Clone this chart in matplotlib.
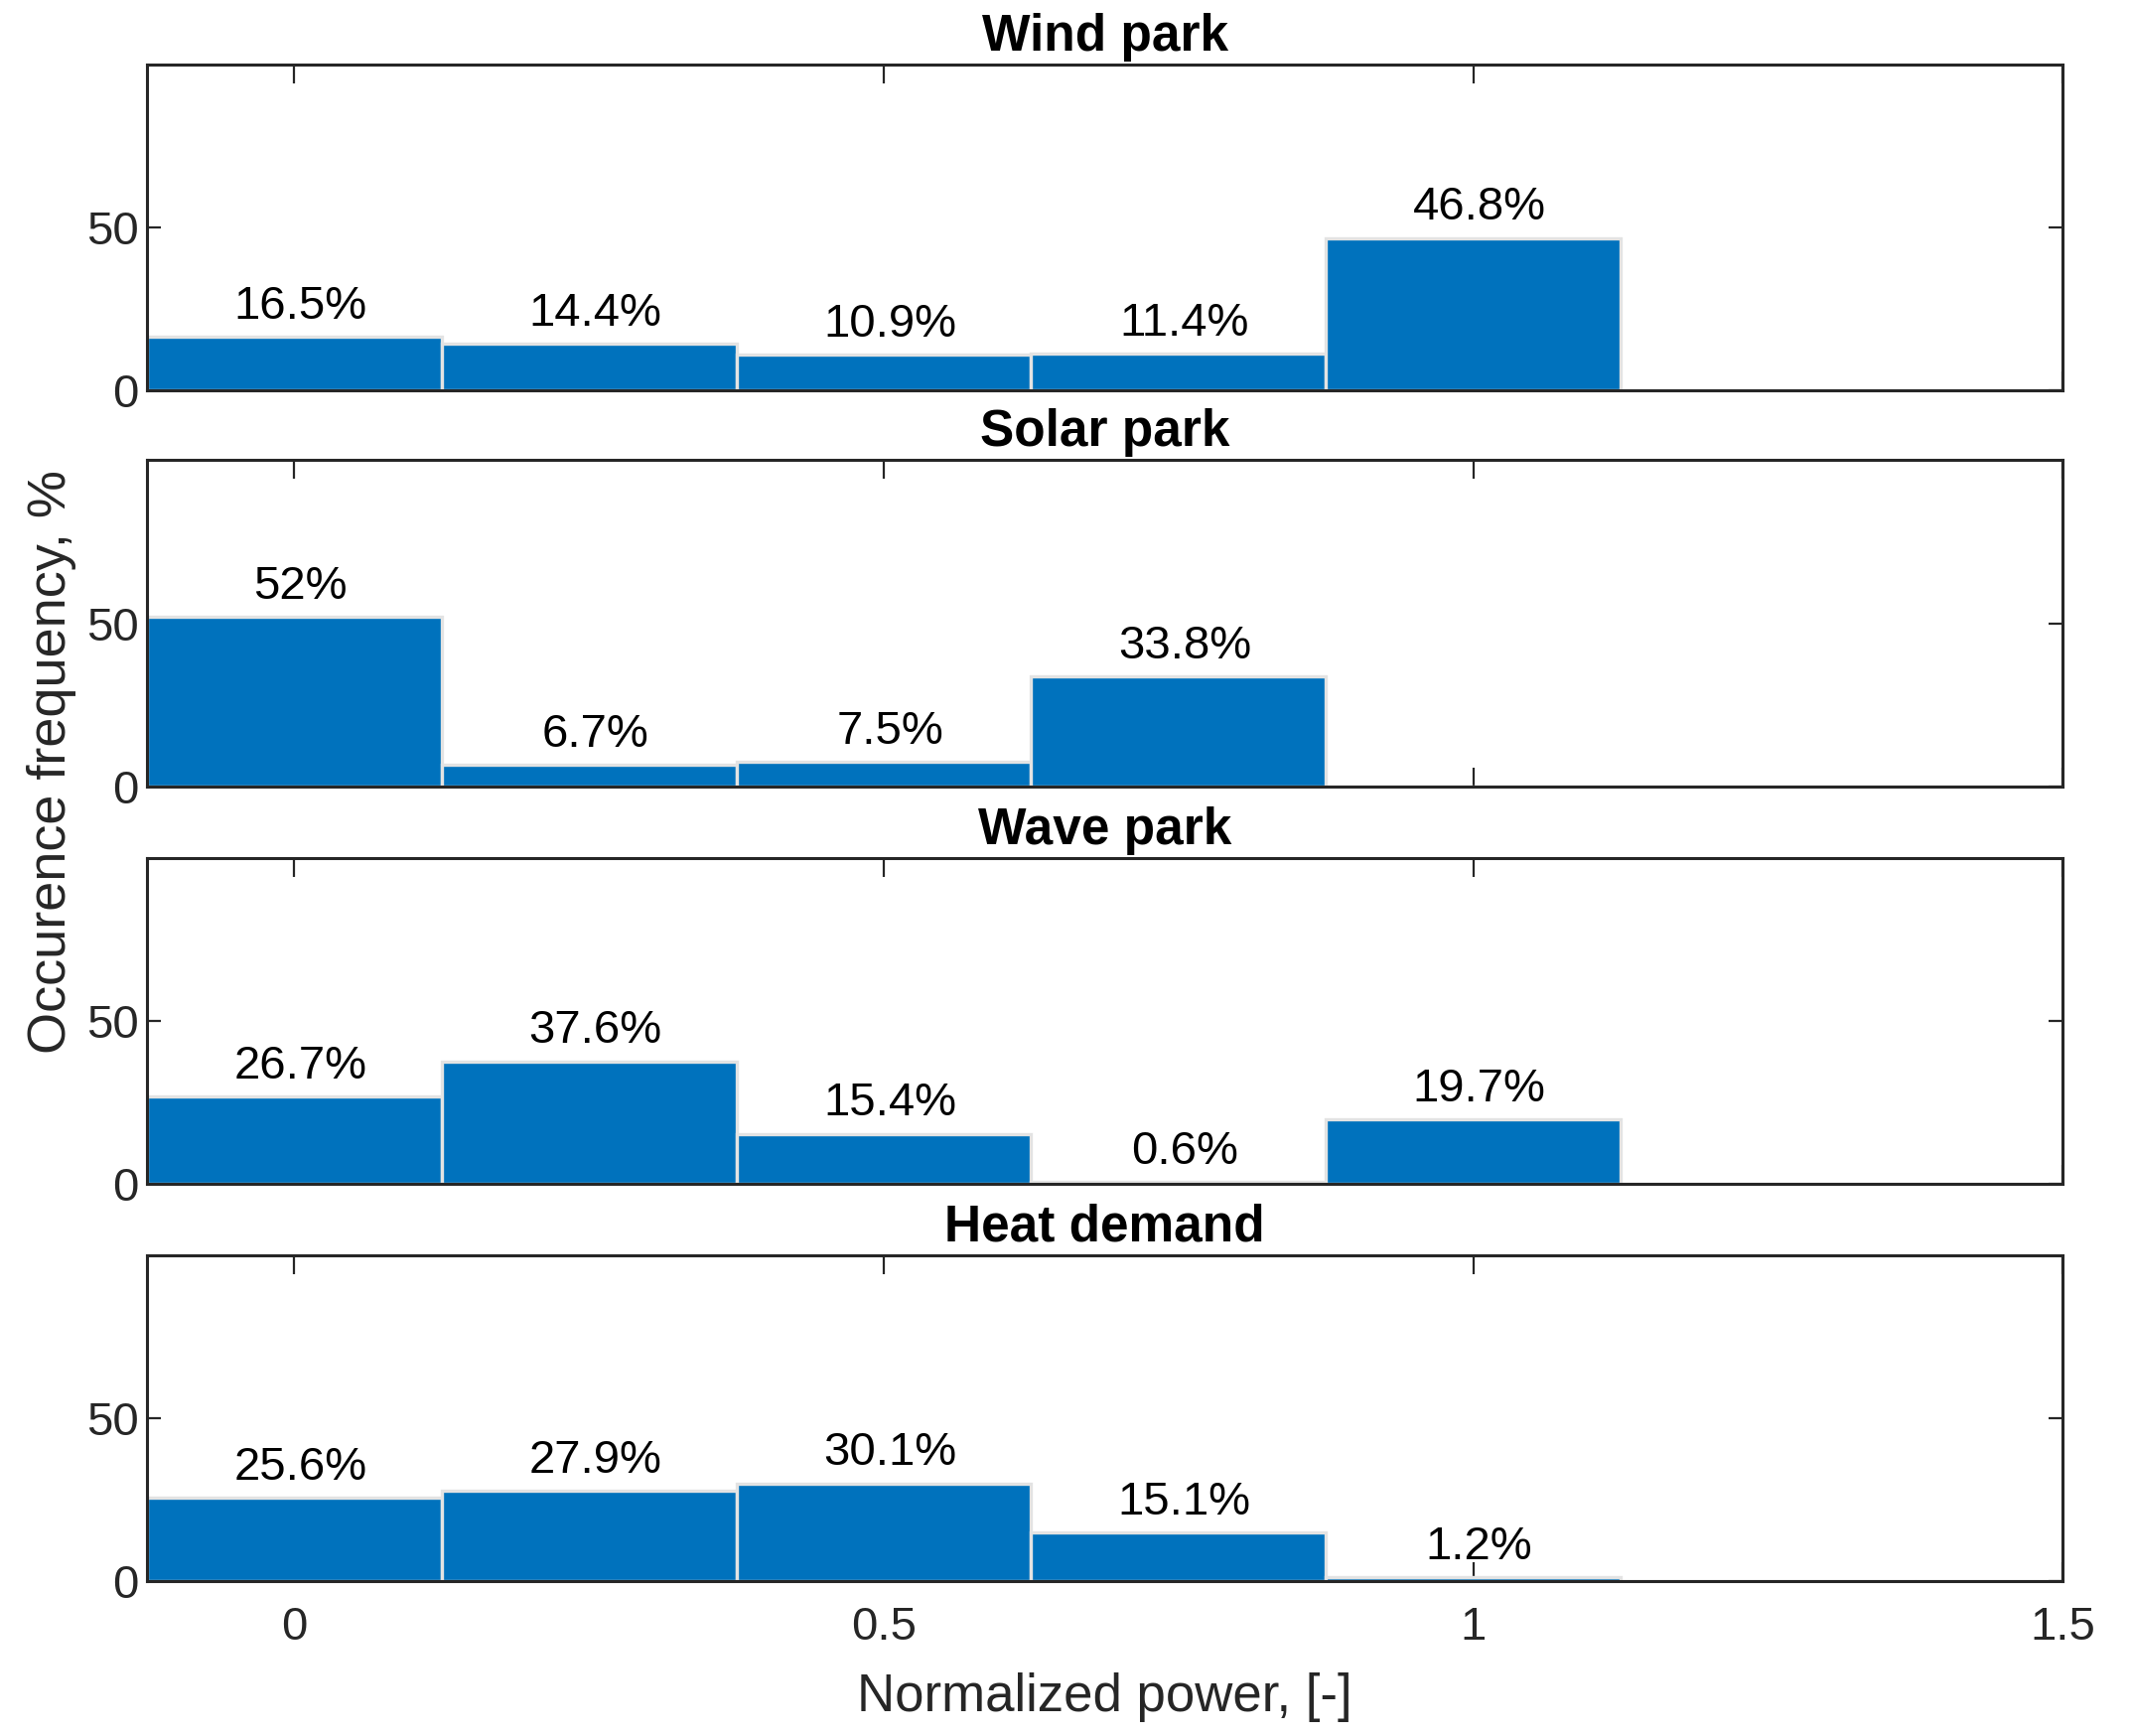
import matplotlib.pyplot as plt
import numpy as np

plt.rcParams['font.family'] = ['Liberation Sans', 'DejaVu Sans']

# bin centres of normalized power and occurrence frequency (%) per source
centers = [0, 0.25, 0.5, 0.75, 1.0, 1.25, 1.5]
titles = ['Wind park', 'Solar park', 'Wave park', 'Heat demand']
wind = [16.5, 14.4, 10.9, 11.4, 46.8, 0, 0]
solar = [52.0, 6.7, 7.5, 33.8, 0, 0, 0]
wave = [26.7, 37.6, 15.4, 0.6, 19.7, 0, 0]
heat = [25.6, 27.9, 30.1, 15.1, 1.2, 0, 0]
labels = [
    ['16.5%', '14.4%', '10.9%', '11.4%', '46.8%'],
    ['52%', '6.7%', '7.5%', '33.8%'],
    ['26.7%', '37.6%', '15.4%', '0.6%', '19.7%'],
    ['25.6%', '27.9%', '30.1%', '15.1%', '1.2%'],
]
xticks = [0, 0.5, 1, 1.5]
xticklabels = ['0', '0.5', '1', '1.5']
yticks = [0, 50]

series = [wind, solar, wave, heat]
gray = '#262626'

fig = plt.figure(figsize=(10.73, 8.74), dpi=200)
left, width = 0.069, 0.899
h = 0.188
bottoms = [0.775, 0.547, 0.318, 0.089]

for k in range(4):
    ax = fig.add_axes([left, bottoms[k], width, h])
    ax.bar(centers, series[k], width=0.25, color='#0072BD',
           edgecolor='#E3E3E3', linewidth=1.2, zorder=2)
    for i, lab in enumerate(labels[k]):
        ax.text(centers[i] + 0.005, series[k][i] + 2.5, lab, ha='center', va='bottom',
                fontsize=17, color='black')
    ax.set_xlim(-0.125, 1.5)
    ax.set_ylim(0, 100)
    ax.set_yticks(yticks)
    ax.set_xticks(xticks)
    if k == 3:
        ax.set_xticklabels(xticklabels)
    else:
        ax.set_xticklabels([])
    ax.tick_params(axis='x', direction='in', length=7, width=0.8, color=gray,
                   top=True, labelsize=17, labelcolor=gray, pad=9)
    ax.tick_params(axis='y', direction='in', length=5, width=0.8, color=gray,
                   right=True, labelsize=17, labelcolor=gray, pad=3)
    for s in ax.spines.values():
        s.set_color(gray)
        s.set_linewidth(1.1)
        s.set_zorder(3)
    ax.set_title(titles[k], fontsize=18.5, fontweight='bold', pad=5)
    if k == 3:
        ax.set_xlabel('Normalized power, [-]', fontsize=19, color=gray, labelpad=8)

fig.text(0.024, 0.561, 'Occurence frequency, %', rotation=90, ha='center', va='center',
         fontsize=19.5, color=gray)

plt.savefig('out.png', dpi=200)
